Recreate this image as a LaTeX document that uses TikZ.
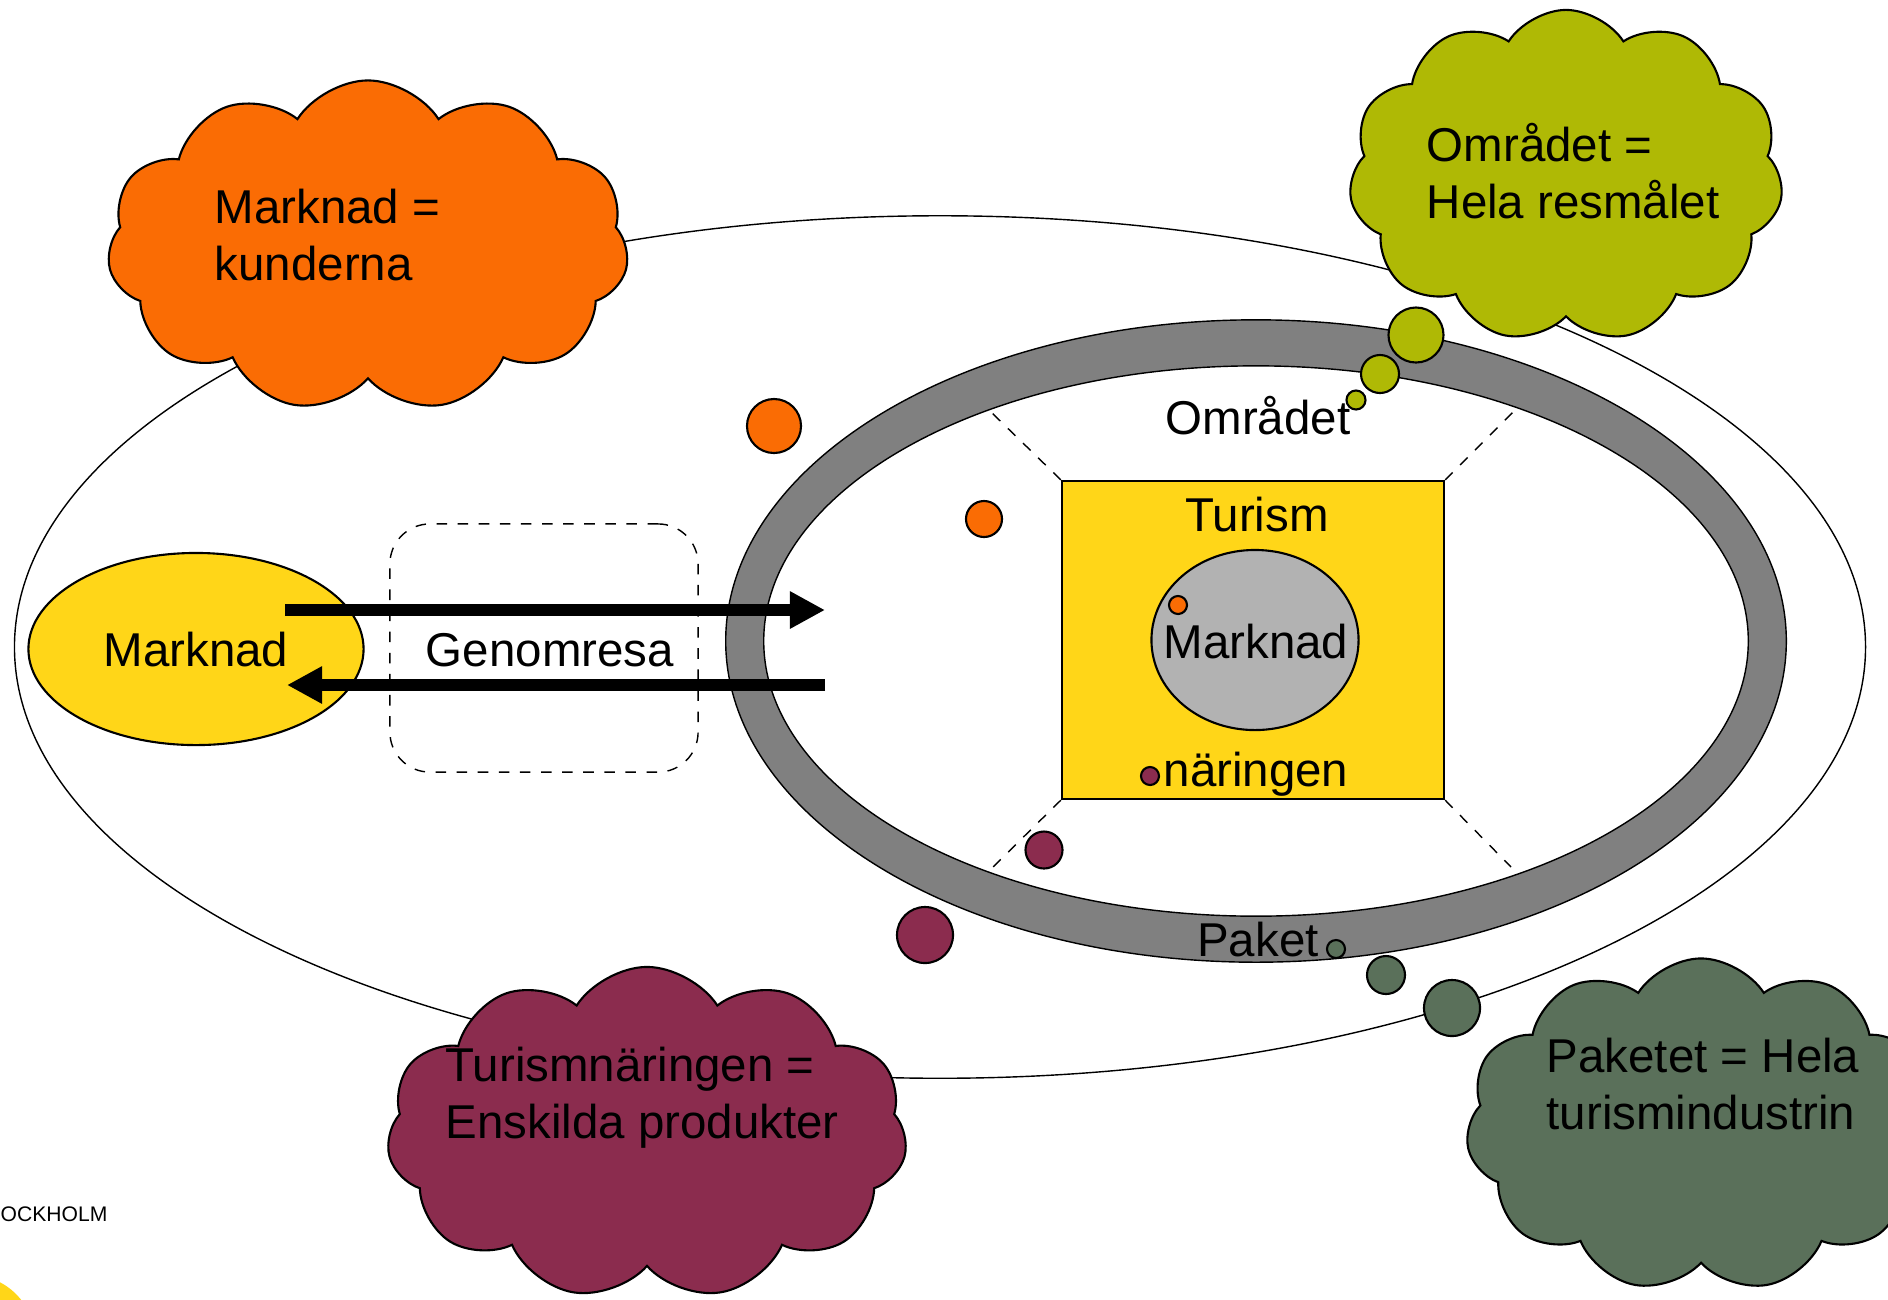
\documentclass[tikz,border=0pt]{standalone}
\usepackage{fontspec}
\setmainfont{Liberation Sans}
\usetikzlibrary{shapes.geometric,shapes.symbols,arrows.meta}

\definecolor{tourorange}{RGB}{250,108,4}
\definecolor{touryellow}{RGB}{255,214,24}
\definecolor{tourolive}{RGB}{175,185,5}
\definecolor{tourmaroon}{RGB}{139,44,78}
\definecolor{tourgreen}{RGB}{90,112,90}

\tikzset{
  bubble/.style={cloud, cloud puffs=11, cloud puff arc=115, cloud ignores aspect,
    draw=black, line width=0.6pt, inner sep=0pt},
  say/.style={font=\fontsize{13.5}{16.2}\selectfont, inner sep=0pt, align=left},
}

\begin{document}
\begin{tikzpicture}[x=0.01cm, y=-0.01cm]
\useasboundingbox (0,0) rectangle (1888,1299);
% Outer ellipse
\draw[line width=0.4pt] (940,647) ellipse [x radius=9.25cm, y radius=4.31cm];
% Ring
\filldraw[fill=gray, draw=black, line width=0.4pt, even odd rule]
  (1256,641) ellipse [x radius=5.30cm, y radius=3.21cm]
  (1256,641) ellipse [x radius=4.92cm, y radius=2.75cm];
\node[say, anchor=base] (omr) at (1258,434) {Området};
\node[say, anchor=base] (pak) at (1258,956) {Paket};
% Square in the middle
\node[draw, fill=touryellow, line width=0.6pt, minimum width=3.82cm, minimum height=3.18cm, inner sep=0pt] (tur) at (1253,640) {};
\coordinate (tl) at (991,412);
\coordinate (tr) at (1515,410);
\coordinate (bl) at (993,867);
\coordinate (br) at (1511,867);
\draw[dashed] (tur.north west) -- (tl) (tur.north east) -- (tr)
  (tur.south west) -- (bl) (tur.south east) -- (br);
\node[say, anchor=base] (turism) at (1257,531) {Turism};
\node[say, anchor=base] (nar) at (1256,786) {näringen};
\node[ellipse, draw, fill=gray!60, line width=0.6pt, inner sep=0pt, minimum width=2.07cm, minimum height=1.8cm] (inner) at (1255,640) {};
\node[say] (innername) at (1256,642) {Marknad};
% Market and trip
\node[ellipse, draw, fill=touryellow, line width=0.6pt, inner sep=0pt, minimum width=3.35cm, minimum height=1.92cm] (home) at (196,649) {};
\node[say] (homename) at (196,650) {Marknad};
\node[draw, dashed, rounded corners=0.4cm, minimum width=3.08cm, minimum height=2.48cm] (trip) at (544,648) {};
\node[say] (tripname) at (550,650) {Genomresa};
\coordinate (goL) at (285,610);
\coordinate (goR) at (825,610);
\coordinate (backR) at (825,685);
\coordinate (backL) at (287,685);
\draw[line width=3.4pt, -{Triangle[length=3.5mm, width=3.5mm]}] (goL) -- (goR);
\draw[line width=3.4pt, -{Triangle[length=3.5mm, width=3.5mm]}] (backR) -- (backL);
% Dots
\foreach \cx/\cy/\rr/\cc in {774/426/2.7/tourorange, 984/519/1.8/tourorange, 1178/605/0.9/tourorange,
    1150/776/0.9/tourmaroon, 1044/850/1.85/tourmaroon, 925/935/2.8/tourmaroon,
    1336/949/0.9/tourgreen, 1386/975/1.9/tourgreen, 1452/1008/2.8/tourgreen,
    1356/400/0.95/tourolive, 1380/374/1.9/tourolive, 1416/335/2.75/tourolive}
  \filldraw[fill=\cc, line width=0.6pt] (\cx,\cy) circle [radius=\rr mm];
% Clouds
\node[bubble, fill=tourorange, minimum width=5.21cm, minimum height=3.31cm] (mktcloud) at (368,246) {};
\node[say, anchor=base west] (mkttext) at (214,280) {Marknad =\\kunderna};
\node[bubble, fill=tourolive, minimum width=4.34cm, minimum height=3.32cm] (omrcloud) at (1566,176) {};
\node[say, anchor=base west] (omrtext) at (1426,218) {Området =\\Hela resmålet};
\node[bubble, fill=tourmaroon, minimum width=5.2cm, minimum height=3.32cm] (narcloud) at (647,1133) {};
\node[say, anchor=base west] (nartext) at (445,1138) {Turismnäringen =\\Enskilda produkter};
\node[bubble, fill=tourgreen, minimum width=4.7cm, minimum height=3.33cm] (pakcloud) at (1701,1125) {};
\node[say, anchor=base west] (paktext) at (1546,1129) {Paketet = Hela\\turismindustrin};
% Corner
\fill[touryellow] (-30,1340) circle [radius=6.5mm];
\node[font=\fontsize{6}{7}\selectfont, anchor=base west, inner sep=0pt] (city) at (0,1221) {OCKHOLM};
\end{tikzpicture}
\end{document}
